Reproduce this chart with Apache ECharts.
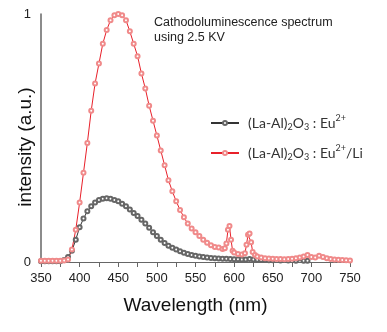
<!DOCTYPE html>
<html>
<head>
<meta charset="utf-8">
<script src="https://cdn.jsdelivr.net/npm/echarts@6/dist/echarts.min.js"></script>
<style>
html,body{margin:0;padding:0;background:#fff;}
#chart{width:387px;height:332px;}
</style>
</head>
<body>
<div id="chart"></div>
<script>
// Eu2+ sample (black)
var blackWavelength = [350,355,360,365,370,375,380,385,390,395,400,405,410,415,420,425,430,435,440,445,450,455,460,465,470,475,480,485,490,495,500,505,510,515,520,525,530,535,540,545,550,555,560,565,570,575,580,585,590,595,600,605,610,615,620,625,630,635,640,645,650,660,670,680,690,695];
var blackIntensity = [0.003,0.003,0.003,0.003,0.003,0.003,0.008,0.02,0.045,0.09,0.14,0.175,0.205,0.225,0.24,0.25,0.255,0.257,0.255,0.25,0.245,0.235,0.225,0.212,0.198,0.185,0.17,0.155,0.138,0.12,0.105,0.09,0.077,0.066,0.057,0.05,0.043,0.037,0.032,0.028,0.025,0.022,0.02,0.018,0.016,0.015,0.014,0.013,0.013,0.012,0.011,0.011,0.01,0.01,0.012,0.01,0.009,0.008,0.008,0.007,0.007,0.006,0.006,0.005,0.005,0.005];

// Eu2+/Li sample (red)
var redWavelength = [350,355,360,365,370,375,380,385,390,395,400,405,410,415,420,425,430,435,440,445,450,455,460,465,470,475,480,485,490,495,500,505,510,515,520,525,530,535,540,545,550,555,560,565,570,575,580,585,588,590,592,594,596,598,600,605,610,614,616,618,620,622,624,627,630,635,640,645,650,655,660,665,670,675,680,685,690,695,700,705,710,715,720,725,730,735,740,745,750];
var redIntensity = [0.005,0.005,0.005,0.005,0.005,0.005,0.006,0.01,0.05,0.13,0.24,0.36,0.48,0.61,0.72,0.80,0.88,0.935,0.975,0.995,1.0,0.995,0.975,0.93,0.88,0.83,0.76,0.70,0.63,0.57,0.51,0.45,0.39,0.33,0.285,0.245,0.21,0.18,0.155,0.135,0.12,0.105,0.09,0.078,0.068,0.06,0.058,0.052,0.055,0.075,0.13,0.145,0.09,0.045,0.038,0.032,0.03,0.035,0.07,0.11,0.115,0.08,0.04,0.028,0.022,0.018,0.015,0.014,0.013,0.012,0.012,0.011,0.012,0.013,0.015,0.018,0.022,0.028,0.02,0.018,0.025,0.02,0.015,0.012,0.01,0.009,0.008,0.007,0.006];

var xTicks = [350,400,450,500,550,600,650,700,750];
var yTicks = [0,1];

var seriesNames = ['(La-Al){sub|2}O{sub|3} : Eu{sup|2+}', '(La-Al){sub|2}O{sub|3} : Eu{sup|2+}/Li'];
var seriesIds = ['Eu', 'EuLi'];
var titleLines = ['Cathodoluminescence spectrum', 'using 2.5 KV'];

function pairs(xs, ys) {
  var out = [];
  for (var i = 0; i < xs.length; i++) out.push([xs[i], ys[i]]);
  return out;
}

var chart = echarts.init(document.getElementById('chart'), null, {renderer: 'canvas'});
chart.setOption({
  animation: false,
  backgroundColor: '#fff',
  title: {
    text: titleLines.join('\n'),
    left: 154, top: 15, padding: 0,
    textStyle: {fontFamily: 'Liberation Sans', fontSize: 12.5, fontWeight: 'normal', color: '#222', lineHeight: 15}
  },
  legend: {
    orient: 'vertical',
    left: 210, top: 114, padding: 0,
    itemWidth: 28, itemHeight: 5, itemGap: 12,
    data: seriesIds,
    formatter: function (name) { return seriesNames[seriesIds.indexOf(name)]; },
    textStyle: {
      fontFamily: 'Lato', fontSize: 14, color: '#333', padding: [0,0,0,4], lineHeight: 18,
      rich: {
        sub: {fontFamily: 'Lato', fontSize: 9, color: '#333', verticalAlign: 'bottom', lineHeight: 18, padding: [6,0,0,0]},
        sup: {fontFamily: 'Lato', fontSize: 9, color: '#333', verticalAlign: 'top', lineHeight: 18, padding: [0,0,6,0]}
      }
    }
  },
  grid: {left: 41, right: 37, top: 14, bottom: 70, containLabel: false},
  xAxis: {
    type: 'value', min: xTicks[0], max: xTicks[xTicks.length - 1], interval: 50,
    name: 'Wavelength (nm)', nameLocation: 'middle', nameGap: 34, nameMoveOverlap: false,
    nameTextStyle: {fontFamily: 'Liberation Sans', fontSize: 19, color: '#111'},
    axisLine: {show: true, lineStyle: {color: '#666', width: 1}},
    axisTick: {show: true, inside: false, length: 5, lineStyle: {color: '#666'}},
    minorTick: {show: true, splitNumber: 2, length: 5, lineStyle: {color: '#666'}},
    axisLabel: {fontFamily: 'Liberation Sans', fontSize: 13, color: '#222', margin: 10},
    splitLine: {show: false}
  },
  yAxis: {
    type: 'value', min: yTicks[0], max: yTicks[1], interval: 1,
    name: 'intensity (a.u.)', nameLocation: 'middle', nameGap: 6, nameRotate: 90, nameMoveOverlap: false,
    nameTextStyle: {fontFamily: 'Liberation Sans', fontSize: 19, color: '#111', padding: [0,18,0,0]},
    axisLine: {show: true, lineStyle: {color: '#666', width: 1.5}},
    axisTick: {show: false},
    axisLabel: {fontFamily: 'Liberation Sans', fontSize: 13, color: '#222', margin: 10},
    splitLine: {show: false}
  },
  series: [
    {
      id: seriesIds[0], name: seriesIds[0], type: 'line',
      data: pairs(blackWavelength, blackIntensity),
      symbol: 'emptyCircle', symbolSize: 4, showAllSymbol: true,
      lineStyle: {color: '#333', width: 1},
      itemStyle: {color: '#666', borderWidth: 1}
    },
    {
      id: seriesIds[1], name: seriesIds[1], type: 'line',
      data: pairs(redWavelength, redIntensity),
      symbol: 'emptyCircle', symbolSize: 4, showAllSymbol: true,
      lineStyle: {color: '#e8202a', width: 1},
      itemStyle: {color: '#f08a8a', borderWidth: 1}
    }
  ]
});
</script>
</body>
</html>
